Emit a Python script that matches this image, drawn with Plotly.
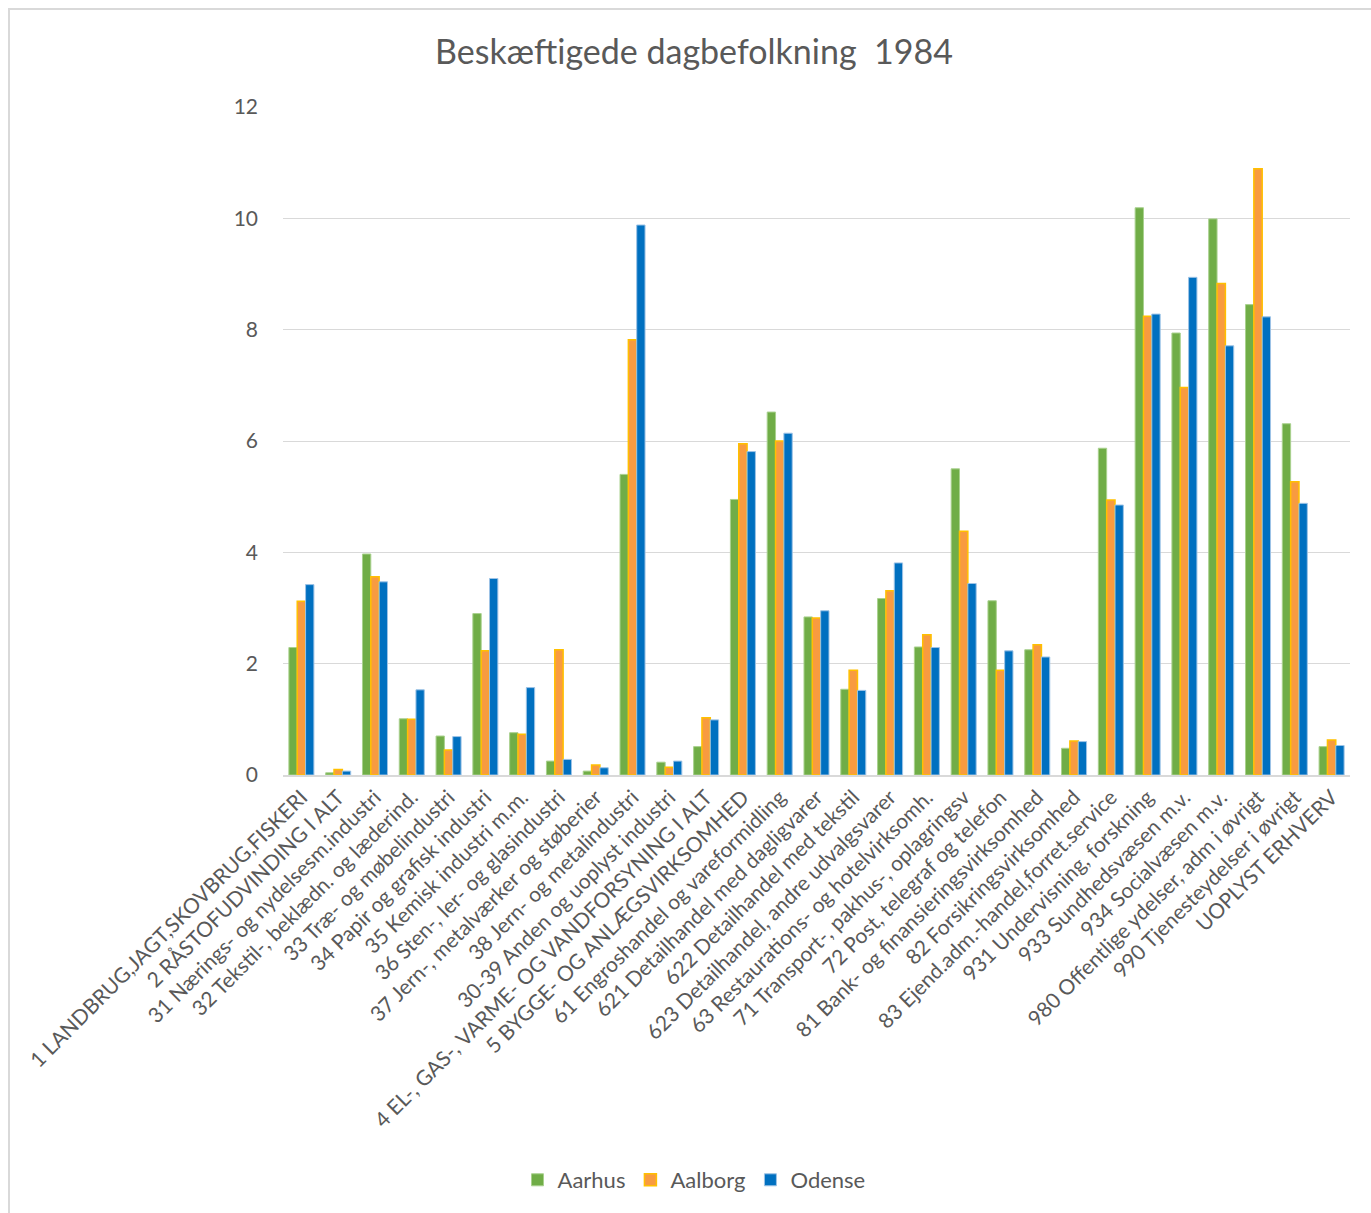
import plotly.graph_objects as go

categories = [
    "1 LANDBRUG,JAGT,SKOVBRUG,FISKERI",
    "2 RÅSTOFUDVINDING I ALT",
    "31 Nærings- og nydelsesm.industri",
    "32 Tekstil-, beklædn. og læderind.",
    "33 Træ- og møbelindustri",
    "34 Papir og grafisk industri",
    "35 Kemisk industri m.m.",
    "36 Sten-, ler- og glasindustri",
    "37 Jern-, metalværker og støberier",
    "38 Jern- og metalindustri",
    "30-39 Anden og uoplyst industri",
    "4 EL-, GAS-, VARME- OG VANDFORSYNING I ALT",
    "5 BYGGE- OG ANLÆGSVIRKSOMHED",
    "61 Engroshandel og vareformidling",
    "621 Detailhandel med dagligvarer",
    "622 Detailhandel med tekstil",
    "623 Detailhandel, andre udvalgsvarer",
    "63 Restaurations- og hotelvirksomh.",
    "71 Transport-, pakhus-, oplagringsv",
    "72 Post, telegraf og telefon",
    "81 Bank- og finansieringsvirksomhed",
    "82 Forsikringsvirksomhed",
    "83 Ejend.adm.-handel,forret.service",
    "931 Undervisning, forskning",
    "933 Sundhedsvæsen m.v.",
    "934 Socialvæsen m.v.",
    "980 Offentlige ydelser, adm i øvrigt",
    "990 Tjenesteydelser i øvrigt",
    "UOPLYST ERHVERV",
]

aarhus = [2.29, 0.04, 3.97, 1.01, 0.70, 2.90, 0.76, 0.25, 0.07, 5.40,
          0.23, 0.51, 4.95, 6.52, 2.84, 1.54, 3.17, 2.30, 5.50, 3.13,
          2.25, 0.48, 5.87, 10.19, 7.94, 9.99, 8.45, 6.31, 0.51]
aalborg = [3.12, 0.10, 3.56, 1.00, 0.45, 2.23, 0.73, 2.25, 0.18, 7.82,
           0.14, 1.03, 5.95, 6.00, 2.82, 1.88, 3.31, 2.52, 4.38, 1.88,
           2.34, 0.61, 4.94, 8.24, 6.96, 8.83, 10.89, 5.27, 0.63]
odense = [3.42, 0.07, 3.47, 1.53, 0.69, 3.53, 1.57, 0.28, 0.13, 9.88,
          0.25, 0.99, 5.81, 6.14, 2.95, 1.52, 3.81, 2.29, 3.44, 2.23,
          2.12, 0.60, 4.85, 8.28, 8.94, 7.71, 8.23, 4.88, 0.53]

yticks = [0, 2, 4, 6, 8, 10, 12]

W, H = 1371, 1213
L, R, T, B = 283, 21, 107, 438
pw, ph = W - L - R, H - T - B

fig = go.Figure()
fig.add_trace(go.Bar(name="Aarhus", x=categories, y=aarhus,
                     marker=dict(color="#70AD47", line=dict(color="#A9D18E", width=1))))
fig.add_trace(go.Bar(name="Aalborg", x=categories, y=aalborg,
                     marker=dict(color="#F89B40", line=dict(color="#FFC000", width=1.5))))
fig.add_trace(go.Bar(name="Odense", x=categories, y=odense,
                     marker=dict(color="#0070C0", line=dict(color="#9DC3E6", width=1))))

font_family = "Lato, 'Open Sans', sans-serif"

fig.update_layout(
    width=W, height=H,
    margin=dict(l=L, r=R, t=T, b=B, autoexpand=False),
    paper_bgcolor="white", plot_bgcolor="white",
    barmode="group", bargap=0.32, bargroupgap=0,
    font=dict(family=font_family, color="#595959", size=21),
    title=dict(text="Beskæftigede dagbefolkning  1984",
               x=694 / W, xanchor="center", xref="container",
               y=1 - 52 / H, yanchor="middle", yref="container",
               font=dict(size=34, color="#595959", family=font_family)),
    legend=dict(orientation="h", x=(694 - L) / pw, xanchor="center",
                y=(H - 1180 - B) / ph, yanchor="middle",
                font=dict(size=22, color="#595959"), traceorder="normal",
                itemwidth=30),
    xaxis=dict(type="category", tickangle=-45, showgrid=False,
               showline=True, linecolor="#D9D9D9", linewidth=1.5,
               ticks="", automargin=False,
               tickfont=dict(size=21, color="#595959")),
    yaxis=dict(range=[0, 12], tickvals=yticks, showgrid=True,
               gridcolor="#D9D9D9", gridwidth=1, zeroline=False,
               ticks="", automargin=False, ticklabelstandoff=24,
               tickfont=dict(size=21, color="#595959")),
)

# chart border (left and top edges visible)
fig.add_shape(type="rect", xref="paper", yref="paper",
              x0=(9 - L) / pw, x1=(1400 - L) / pw,
              y0=(H - 1250 - B) / ph, y1=(H - 9 - B) / ph,
              line=dict(color="#D9D9D9", width=2), layer="below")

fig.write_html("out.html", config={"displayModeBar": False},
               post_script="document.body.style.margin='0';")
